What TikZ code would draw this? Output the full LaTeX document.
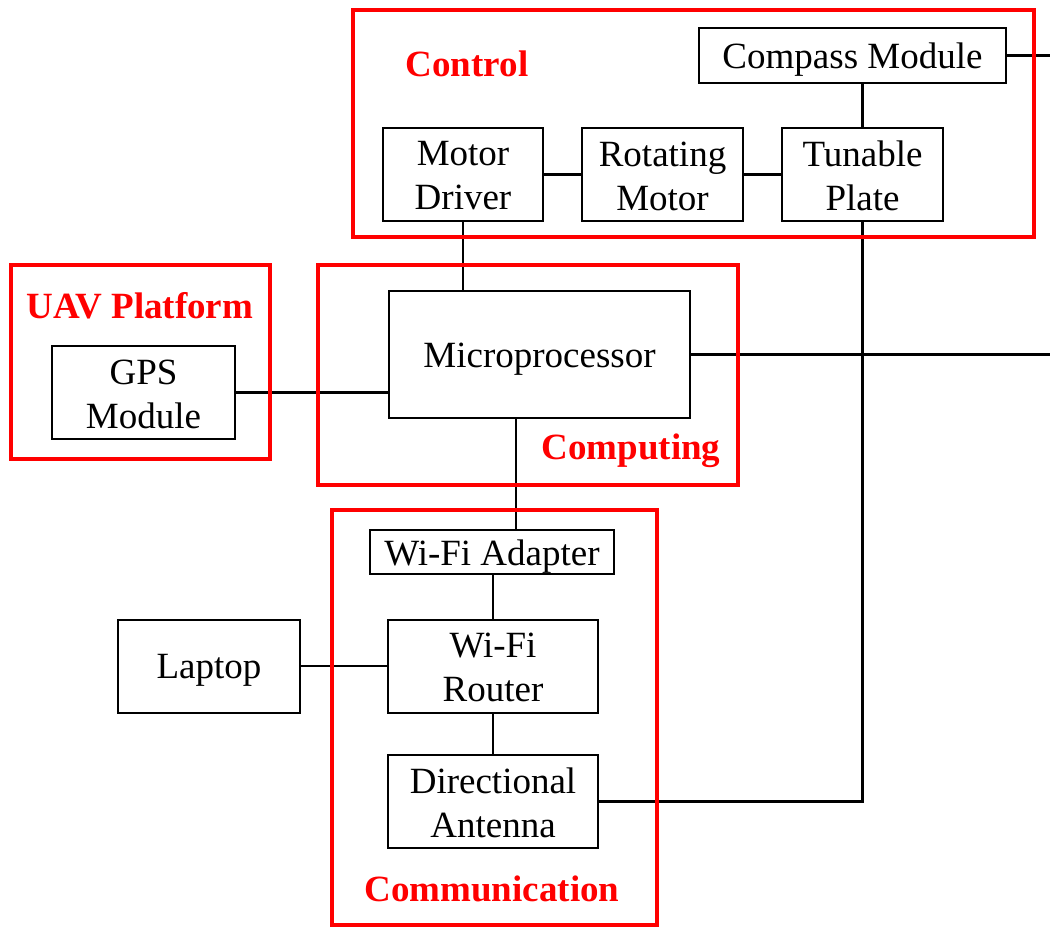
\documentclass[tikz,border=0pt]{standalone}
\usepackage{fontspec}
\setmainfont{Liberation Serif}
\begin{document}
\begin{tikzpicture}[x=1pt,y=-1pt,
  blk/.style={draw=black, line width=2pt, fill=white, inner sep=0pt},
  txt/.style={inner sep=0pt, align=center, font=\fontsize{37}{44}\selectfont},
  one/.style={txt, yshift=-4.5pt},
  two/.style={txt, yshift=-1.5pt},
  grp/.style={draw=red, line width=4pt},
  ttl/.style={text=red, inner sep=0pt, font=\fontsize{37}{40}\selectfont\bfseries},
  wire/.style={draw=black, line width=2.5pt}]
\useasboundingbox (0,0) rectangle (1050,928);

% functional blocks
\node[blk, minimum width=307pt, minimum height=55pt] (cm) at (852.5,55.5) {};
\node[blk, minimum width=160pt, minimum height=93pt] (md) at (463,174.5) {};
\node[blk, minimum width=161pt, minimum height=93pt] (rm) at (662.5,174.5) {};
\node[blk, minimum width=161pt, minimum height=93pt] (tp) at (862.5,174.5) {};
\node[blk, minimum width=183pt, minimum height=93pt] (gps) at (143.5,392.5) {};
\node[blk, minimum width=301pt, minimum height=127pt] (mp) at (539.5,354.5) {};
\node[blk, minimum width=244pt, minimum height=44pt] (ad) at (492,552) {};
\node[blk, minimum width=210pt, minimum height=93pt] (rt) at (493,666) {};
\node[blk, minimum width=210pt, minimum height=93pt] (an) at (493,801.5) {};
\node[blk, minimum width=182pt, minimum height=93pt] (lap) at (209,666) {};

% block captions
\node[one] (cmT) at (cm) {Compass Module};
\node[two] (mdT) at (md) {Motor\\Driver};
\node[two] (rmT) at (rm) {Rotating\\Motor};
\node[two] (tpT) at (tp) {Tunable\\Plate};
\node[two] (gpsT) at (gps) {GPS\\Module};
\node[one] (mpT) at (mp) {Microprocessor};
\node[one] (adT) at (ad) {Wi-Fi Adapter};
\node[two] (rtT) at (rt) {Wi-Fi\\Router};
\node[two] (anT) at (an) {Directional\\Antenna};
\node[one] (lapT) at (lap) {Laptop};

% loose ends leaving the right edge
\coordinate (cmOut) at (1050,55.5);
\coordinate (mpOut) at (1050,354.5);

% connections
\draw[wire] (cm.east) -- (cmOut);
\draw[wire] (cm.south -| tp.north) -- (tp.north);
\draw[wire] (md.east) -- (rm.west);
\draw[wire] (rm.east) -- (tp.west);
\draw[wire] (md.south) -- (md.south |- mp.north);
\draw[wire] (mp.east) -- (mpOut);
\draw[wire] (gps.east) -- (gps.east -| mp.west);
\draw[wire] ([xshift=-23.5pt]mp.south) -- ([xshift=-23.5pt]mp.south |- ad.north);
\draw[wire] (ad.south -| rt.north) -- (rt.north);
\draw[wire] (rt.south) -- (an.north);
\draw[wire] (lap.east) -- (lap.east -| rt.west);
\draw[wire] (tp.south) |- (an.east);

% subsystem groups
\draw[grp] (353,10) rectangle (1034,237);
\draw[grp] (11,265) rectangle (270,459);
\draw[grp] (318,265) rectangle (738,485);
\draw[grp] (332,510) rectangle (657,925);

\node[ttl] (tControl) at (467,64) {Control};
\node[ttl] (tUav) at (140,306) {UAV Platform};
\node[ttl] (tComp) at (631,451) {Computing};
\node[ttl] (tComm) at (492,889) {Communication};
\end{tikzpicture}
\end{document}
